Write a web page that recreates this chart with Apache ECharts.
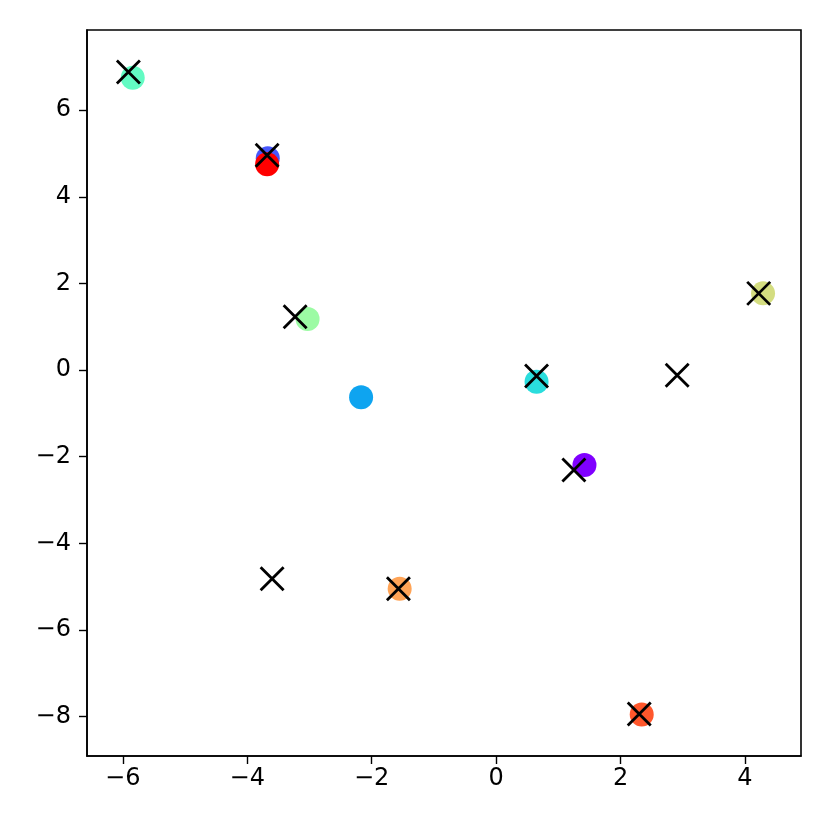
<!DOCTYPE html>
<html>
<head>
<meta charset="utf-8">
<script src="https://cdn.jsdelivr.net/npm/echarts@6/dist/echarts.min.js"></script>
<style>
  html, body { margin: 0; padding: 0; background: #fff; }
  #chart { width: 830px; height: 830px; }
</style>
</head>
<body>
<div id="chart"></div>
<script>
// coloured circles, in colour order (rainbow, 10 steps)
const circleX = [1.42, -3.67, -2.17, 0.65, -5.84, -3.03, 4.29, -1.55, 2.34, -3.68];
const circleY = [-2.19, 4.89, -0.63, -0.27, 6.75, 1.18, 1.77, -5.05, -7.95, 4.75];
const circleColors = ['#8000ff', '#4757fb', '#0ea4f0', '#2adddd', '#63fbc3',
                      '#9cfba4', '#d4dd80', '#ffa457', '#ff572c', '#ff0000'];

// black x markers
const crossX = [-5.91, -3.68, -3.23, 0.65, 2.91, 4.22, 1.25, -3.60, -1.57, 2.30];
const crossY = [6.88, 4.96, 1.23, -0.14, -0.12, 1.77, -2.31, -4.82, -5.05, -7.94];

const xTicks = [-6, -4, -2, 0, 2, 4];
const yTicks = [-8, -6, -4, -2, 0, 2, 4, 6];

const minus = v => String(v).replace('-', '\u2212');

var myChart = echarts.init(document.getElementById('chart'));

var option = {
    animation: false,
    grid: {
        left: 87, right: 29, top: 30, bottom: 74,
        show: true,
        borderColor: '#000',
        borderWidth: 1.6
    },
    xAxis: {
        type: 'value',
        min: -6.575,
        max: 4.9,
        splitLine: { show: false },
        axisLine: { show: true, onZero: false, lineStyle: { color: '#000', width: 1.6 } },
        axisTick: { show: true, customValues: xTicks, length: 8, lineStyle: { color: '#000', width: 1.4 } },
        axisLabel: {
            customValues: xTicks,
            formatter: minus,
            color: '#000',
            fontFamily: 'DejaVu Sans',
            fontSize: 24,
            margin: 11
        }
    },
    yAxis: {
        type: 'value',
        min: -8.91,
        max: 7.85,
        splitLine: { show: false },
        axisLine: { show: true, onZero: false, lineStyle: { color: '#000', width: 1.6 } },
        axisTick: { show: true, customValues: yTicks, length: 8, lineStyle: { color: '#000', width: 1.4 } },
        axisLabel: {
            customValues: yTicks,
            formatter: minus,
            color: '#000',
            fontFamily: 'DejaVu Sans',
            fontSize: 24,
            margin: 16
        }
    },
    series: [
        {
            type: 'scatter',
            symbol: 'circle',
            symbolSize: 24,
            itemStyle: { opacity: 1 },
            data: circleX.map((x, i) => ({
                value: [x, circleY[i]],
                itemStyle: { color: circleColors[i], opacity: 1 }
            }))
        },
        {
            type: 'scatter',
            symbol: 'path://M0,0L10,10M10,0L0,10',
            symbolSize: 23,
            itemStyle: { color: 'none', borderColor: '#000', borderWidth: 2.8, opacity: 1 },
            data: crossX.map((x, i) => [x, crossY[i]])
        }
    ]
};

myChart.setOption(option);
</script>
</body>
</html>
